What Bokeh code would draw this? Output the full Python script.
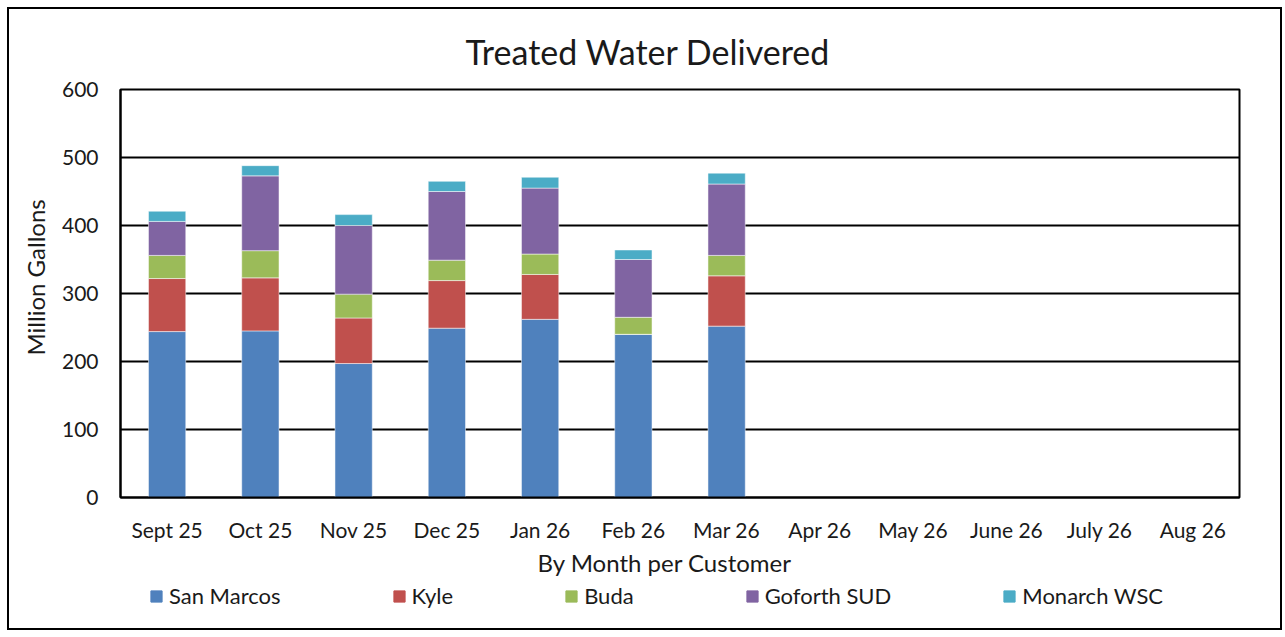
from bokeh.plotting import figure
from bokeh.embed import file_html
from bokeh.resources import INLINE
from bokeh.models import Legend, FixedTicker, Title
from bokeh.layouts import column

months = ["Sept 25", "Oct 25", "Nov 25", "Dec 25", "Jan 26", "Feb 26", "Mar 26",
          "Apr 26", "May 26", "June 26", "July 26", "Aug 26"]
reported = months[:7]
san_marcos = [244, 245, 197, 249, 262, 240, 252]
kyle = [78, 78, 67, 70, 66, 0, 74]
buda = [34, 40, 35, 30, 30, 25, 30]
goforth = [50, 110, 101, 101, 97, 85, 105]
monarch = [15, 15, 16, 15, 16, 14, 16]
series = ["San Marcos", "Kyle", "Buda", "Goforth SUD", "Monarch WSC"]
colors = ["#4F81BD", "#C0504D", "#9BBB59", "#8064A2", "#4BACC6"]
yticks = [0, 100, 200, 300, 400, 500, 600]

FONT = "Lato"
TXT = "#1a1a1a"
W = 1271
NAN = float("nan")

data = {"month": reported, "San Marcos": san_marcos, "Kyle": kyle, "Buda": buda,
        "Goforth SUD": goforth, "Monarch WSC": monarch}

p = figure(x_range=months, y_range=(0, 600), width=W, height=571,
           output_backend="svg", toolbar_location=None,
           min_border_left=110, min_border_right=41, min_border_top=80, min_border_bottom=83)

p.vbar_stack(series, x="month", width=0.4, color=colors, source=data,
             line_color="white", line_alpha=0.5, line_width=1)

main_title = Title(text="Treated Water Delivered", align="left", offset=345,
                   text_font=FONT, text_font_size="34px", text_font_style="normal",
                   text_color=TXT, standoff=36)
p.add_layout(main_title, "above")

x_title = Title(text="By Month per Customer", align="left", offset=417,
                text_font=FONT, text_font_size="24px", text_font_style="normal",
                text_color=TXT, standoff=3)
p.add_layout(x_title, "below")

y_title = Title(text="Million Gallons", align="left", offset=142,
                text_font=FONT, text_font_size="24px", text_font_style="normal",
                text_color=TXT, standoff=18)
p.add_layout(y_title, "left")

p.yaxis.ticker = FixedTicker(ticks=yticks)
for ax in (p.xaxis, p.yaxis):
    ax.major_label_text_font = FONT
    ax.major_label_text_font_size = "21px"
    ax.major_label_text_color = TXT
    ax.major_tick_line_color = None
    ax.minor_tick_line_color = None
    ax.axis_line_color = "black"
    ax.axis_line_width = 2
p.xaxis.major_label_standoff = 13
p.yaxis.major_label_standoff = 16

p.xgrid.grid_line_color = None
p.ygrid.grid_line_color = "black"
p.ygrid.grid_line_width = 2
p.outline_line_color = "black"
p.outline_line_width = 2

# legend strip below the chart
lg = figure(width=W, height=48, output_backend="svg", toolbar_location=None,
            x_range=(0, 1), y_range=(0, 1), min_border=0,
            x_axis_location=None, y_axis_location=None)
lg.grid.grid_line_color = None
lg.outline_line_color = None
items = []
for s, c in zip(series, colors):
    r = lg.vbar(x=[NAN], top=[NAN], width=0.1, color=c)
    items.append((s, [r]))
legend = Legend(items=items, orientation="horizontal", location=(29, 19))
legend.label_text_font = FONT
legend.label_text_font_size = "22px"
legend.label_text_color = TXT
legend.glyph_width = 14
legend.glyph_height = 14
legend.spacing = 111
legend.label_standoff = 6
legend.border_line_color = None
legend.background_fill_alpha = 0
legend.padding = 0
legend.margin = 0
lg.add_layout(legend)

layout = column(p, lg, spacing=0,
                styles={"border": "2px solid black", "margin-left": "7px", "margin-top": "7px"})

open("out.html", "w").write(file_html(layout, INLINE))
